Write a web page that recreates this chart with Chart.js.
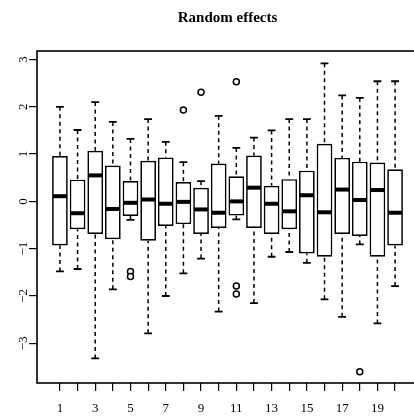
<!DOCTYPE html>
<html>
<head>
<meta charset="utf-8">
<script src="https://cdn.jsdelivr.net/npm/chart.js@4.4.0/dist/chart.umd.min.js"></script>
<style>
  html, body { margin: 0; padding: 0; background: #fff; overflow: hidden; }
  #wrap { width: 430px; height: 416px; }
</style>
</head>
<body>
<div id="wrap"><canvas id="chart"></canvas></div>
<script>
// one box per group
const groups        = [1, 2, 3, 4, 5, 6, 7, 8, 9, 10, 11, 12, 13, 14, 15, 16, 17, 18, 19, 20];
const whiskerLow    = [-1.48, -1.43, -3.32, -1.86, -0.39, -2.79, -2.00, -1.52, -1.21, -2.33, -0.38, -2.15, -1.17, -1.07, -1.30, -2.07, -2.44, -0.91, -2.58, -1.79];
const lowerQuartile = [-0.93, -0.59, -0.69, -0.80, -0.31, -0.83, -0.52, -0.48, -0.69, -0.56, -0.30, -0.56, -0.69, -0.59, -1.10, -1.17, -0.69, -0.73, -1.17, -0.93];
const medians       = [0.11, -0.25, 0.55, -0.16, -0.03, 0.04, -0.05, -0.01, -0.17, -0.24, 0.00, 0.29, -0.05, -0.21, 0.13, -0.23, 0.25, 0.03, 0.24, -0.24];
const upperQuartile = [0.96, 0.46, 1.07, 0.76, 0.43, 0.86, 0.93, 0.41, 0.29, 0.80, 0.53, 0.97, 0.33, 0.47, 0.65, 1.22, 0.92, 0.84, 0.82, 0.68];
const whiskerHigh   = [2.00, 1.51, 2.10, 1.68, 1.32, 1.74, 1.26, 0.83, 0.43, 1.81, 1.13, 1.35, 1.50, 1.74, 1.74, 2.92, 2.24, 2.19, 2.54, 2.54];

// outliers
const outlierGroup = [5, 5, 8, 9, 11, 11, 11, 18];
const outlierValue = [-1.48, -1.59, 1.93, 2.31, 2.53, -1.79, -1.96, -3.60];

// axis ticks
const xTickValues = [1, 2, 3, 4, 5, 6, 7, 8, 9, 10, 11, 12, 13, 14, 15, 16, 17, 18, 19, 20];
const xTickLabels = ['1', '', '3', '', '5', '', '7', '', '9', '', '11', '', '13', '', '15', '', '17', '', '19', ''];
const yTickValues = [-3, -2, -1, 0, 1, 2, 3];
const yTickLabels = ['\u22123', '\u22122', '\u22121', '0', '1', '2', '3'];

const serif = '"Liberation Serif", "DejaVu Serif", serif';

// whiskers, caps, medians, frame and rotated y labels (R style)
const boxParts = {
    id: 'boxParts',
    beforeDatasetsDraw(chart) {
        const ctx = chart.ctx;
        const xs = chart.scales.x, ys = chart.scales.y;
        const bars = chart.getDatasetMeta(0).data;
        ctx.save();
        ctx.strokeStyle = '#000';
        groups.forEach(function(g, i) {
            const px = xs.getPixelForValue(g);
            const capHalf = bars[i].width / 4;
            const hi = ys.getPixelForValue(whiskerHigh[i]);
            const lo = ys.getPixelForValue(whiskerLow[i]);
            ctx.lineWidth = 1.5;
            ctx.setLineDash([4, 3.5]);
            ctx.beginPath();
            ctx.moveTo(px, hi);
            ctx.lineTo(px, ys.getPixelForValue(upperQuartile[i]));
            ctx.moveTo(px, lo);
            ctx.lineTo(px, ys.getPixelForValue(lowerQuartile[i]));
            ctx.stroke();
            ctx.setLineDash([]);
            ctx.lineWidth = 1.8;
            ctx.beginPath();
            ctx.moveTo(px - capHalf, hi);
            ctx.lineTo(px + capHalf, hi);
            ctx.moveTo(px - capHalf, lo);
            ctx.lineTo(px + capHalf, lo);
            ctx.stroke();
        });
        ctx.restore();
    },
    afterDatasetsDraw(chart) {
        const ctx = chart.ctx;
        const xs = chart.scales.x, ys = chart.scales.y;
        const bars = chart.getDatasetMeta(0).data;
        ctx.save();
        ctx.strokeStyle = '#000';
        ctx.lineWidth = 4;
        groups.forEach(function(g, i) {
            const px = xs.getPixelForValue(g);
            const half = bars[i].width / 2 - 1;
            const py = ys.getPixelForValue(medians[i]);
            ctx.beginPath();
            ctx.moveTo(px - half, py);
            ctx.lineTo(px + half, py);
            ctx.stroke();
        });
        // frame round the plot region
        const a = chart.chartArea;
        ctx.lineWidth = 1.6;
        ctx.strokeRect(a.left, a.top, a.right - a.left, a.bottom - a.top);
        // y tick labels, rotated like R's las = 0
        ctx.fillStyle = '#000';
        ctx.font = '13px ' + serif;
        ctx.textAlign = 'center';
        ctx.textBaseline = 'alphabetic';
        ys.ticks.forEach(function(t, i) {
            ctx.save();
            ctx.translate(26.5, ys.getPixelForValue(t.value));
            ctx.rotate(-Math.PI / 2);
            ctx.fillText(yTickLabels[i], 0, 0);
            ctx.restore();
        });
        ctx.restore();
    }
};

new Chart(document.getElementById('chart'), {
    type: 'bar',
    data: {
        datasets: [{
            label: 'boxes',
            data: groups.map((g, i) => ({ x: g, y: [lowerQuartile[i], upperQuartile[i]] })),
            backgroundColor: '#fff',
            borderColor: '#000',
            borderWidth: 1.7,
            borderSkipped: false,
            barPercentage: 1,
            categoryPercentage: 0.89
        }, {
            type: 'scatter',
            label: 'outliers',
            data: outlierGroup.map((g, i) => ({ x: g, y: outlierValue[i] })),
            backgroundColor: '#fff',
            borderColor: '#000',
            borderWidth: 1.5,
            pointRadius: 3,
            pointStyle: 'circle'
        }]
    },
    options: {
        responsive: true,
        maintainAspectRatio: false,
        animation: false,
        events: [],
        layout: { padding: { left: 0, right: 12, top: 0, bottom: 0 } },
        plugins: {
            legend: { display: false },
            tooltip: { enabled: false },
            title: {
                display: true,
                text: 'Random effects',
                fullSize: false,
                color: '#000',
                font: { family: serif, size: 15, weight: 'bold' },
                padding: { top: 9, bottom: 24 }
            }
        },
        scales: {
            x: {
                type: 'linear',
                min: -0.3,
                max: 21.3,
                offset: false,
                afterBuildTicks: s => { s.ticks = xTickValues.map(v => ({ value: v })); },
                afterFit: s => { s.height = 33; },
                grid: { display: true, offset: false, drawOnChartArea: false, drawTicks: true, tickLength: 8, color: '#000', lineWidth: 1.2 },
                border: { display: false },
                ticks: {
                    autoSkip: false,
                    maxRotation: 0,
                    minRotation: 0,
                    padding: 10,
                    color: '#000',
                    font: { family: serif, size: 13 },
                    callback: (v, i) => xTickLabels[i]
                }
            },
            y: {
                type: 'linear',
                min: -3.84,
                max: 3.18,
                afterBuildTicks: s => { s.ticks = yTickValues.map(v => ({ value: v })); },
                afterFit: s => { s.width = 37; },
                grid: { display: true, drawOnChartArea: false, drawTicks: true, tickLength: 8, color: '#000', lineWidth: 1.2 },
                border: { display: false },
                ticks: { display: false }
            }
        }
    },
    plugins: [boxParts]
});
</script>
</body>
</html>
